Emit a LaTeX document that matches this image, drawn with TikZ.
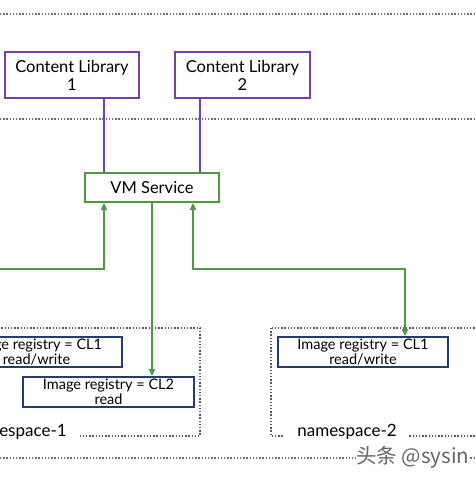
\documentclass[tikz,border=0pt]{standalone}
\usepackage{fontspec}
\setmainfont{Lato}
\newfontfamily\cjkfont{Noto Sans CJK SC}
\usetikzlibrary{arrows.meta}
\definecolor{clpurple}{HTML}{7B3FA3}
\definecolor{vmgreen}{HTML}{4E9A3E}
\definecolor{regnavy}{HTML}{243C6E}
\definecolor{dotgray}{HTML}{6C6A86}
\tikzset{
  clbox/.style={draw=clpurple, line width=1.8pt, minimum width=134pt, minimum height=46pt, align=center, font=\fontsize{16.5}{18}\selectfont, inner sep=0pt},
  vmbox/.style={draw=vmgreen, line width=1.8pt, minimum width=134pt, minimum height=29pt, font=\fontsize{16.5}{18}\selectfont, inner sep=0pt},
  regbox/.style={draw=regnavy, line width=1.6pt, fill=white, minimum width=171pt, minimum height=30pt, align=center, font=\fontsize{14.5}{15.5}\selectfont, inner sep=0pt},
  purpleline/.style={draw=clpurple, line width=2pt},
  greenline/.style={draw=vmgreen, line width=2pt},
  greenarrow/.style={greenline, -{Triangle[length=7pt,width=6pt]}},
  sepline/.style={draw=dotgray, line width=1.3pt, dash pattern=on 1.3pt off 1.9pt},
  nsline/.style={draw=dotgray!80!black, line width=1.5pt, dash pattern=on 1.4pt off 1.8pt},
  nslabel/.style={fill=white, font=\fontsize{17}{18}\selectfont, inner xsep=12pt, inner ysep=1pt},
}
\begin{document}
\begin{tikzpicture}[x=1pt,y=-1pt]
\useasboundingbox (0,0) rectangle (476,477);
\clip (0,0) rectangle (476,477);
\fill[white] (0,0) rectangle (476,477);
% separator lines
\coordinate (s1a) at (0,14); \coordinate (s1b) at (476,14);
\coordinate (s2a) at (0,119); \coordinate (s2b) at (476,119);
\coordinate (s3a) at (0,458); \coordinate (s3b) at (476,458);
\draw[sepline] (s1a) -- (s1b);
\draw[sepline] (s2a) -- (s2b);
\draw[sepline] (s3a) -- (s3b);
% namespaces
\coordinate (n1tl) at (-30,328); \coordinate (n1br) at (200,436);
\coordinate (n2tl) at (271,328); \coordinate (n2br) at (500,436);
\draw[nsline] (n1tl) rectangle (n1br);
\draw[nsline] (n2tl) rectangle (n2br);
\node[nslabel] (ns1) at (17,432) {namespace-1};
\node[nslabel] (ns2) at (347,432) {namespace-2};
% boxes
\node[clbox] (cl1) at (72,75) {Content Library\\1};
\node[clbox, minimum width=135pt] (cl2) at (242.5,75) {Content Library\\2};
\node[vmbox] (vm) at (152,187.5) {VM Service};
\node[regbox] (r1) at (36.5,352) {Image registry = CL1\\read/write};
\node[regbox] (r2) at (108.5,392) {Image registry = CL2\\read};
\node[regbox, minimum width=170pt] (r3) at (363,352) {Image registry = CL1\\read/write};
% purple connectors
\draw[purpleline] (cl1.south -| 104,0) -- (vm.north -| 104,0);
\draw[purpleline] (cl2.south -| 200,0) -- (vm.north -| 200,0);
% green connectors
\coordinate (lft) at (-5,269);
\draw[greenarrow] (lft) -- (104,269) -- (vm.south -| 104,0);
\draw[greenarrow] (vm.south -| 152,0) -- (r2.north -| 152,0);
\draw[greenline, {Triangle[length=7pt,width=6pt]}-{Triangle[length=7pt,width=6pt]}] (vm.south -| 193,0) -- (193,269) -- (405,269) -- (r3.north -| 405,0);
% watermark
\node[anchor=west, inner sep=0pt, fill=white, text=black!60, font=\cjkfont\fontsize{20.5}{20.5}\selectfont] (wm) at (356,457) {头条 @sysin};
\end{tikzpicture}
\end{document}
